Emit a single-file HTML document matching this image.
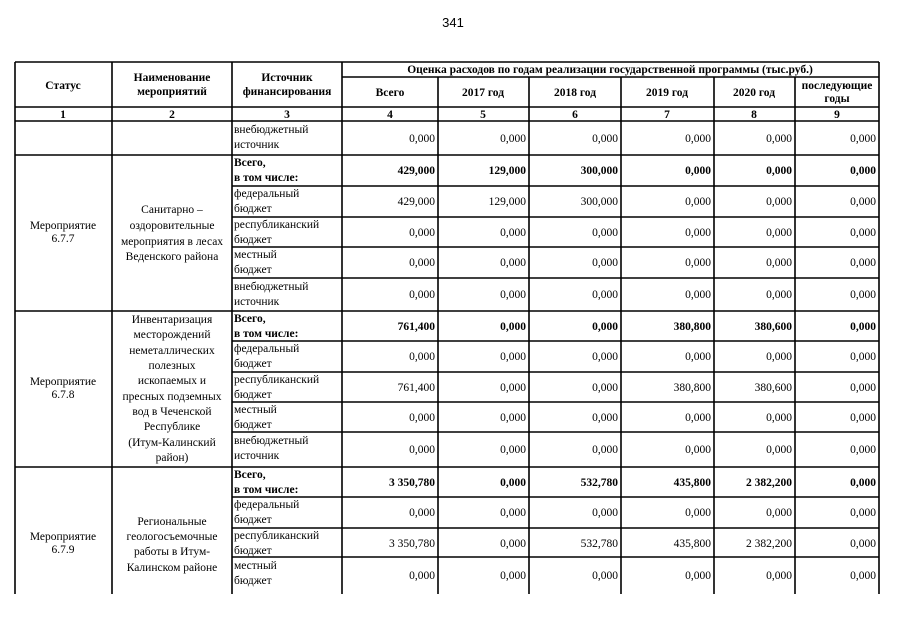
<!DOCTYPE html>
<html><head><meta charset="utf-8"><style>
html,body{margin:0;padding:0;background:#fff;width:905px;height:640px;overflow:hidden}
svg{display:block}
text{font-family:"Liberation Serif",serif;font-size:11.5px;fill:#000}
.b{font-weight:bold}
.n{text-anchor:end}
.c{text-anchor:middle}
</style></head><body>
<svg width="905" height="640" viewBox="0 0 905 640">
<text x="453" y="27" class="c" style="font-family:'Liberation Sans',sans-serif;font-size:13px">341</text>
<g stroke="#000" stroke-width="1.6" fill="none">
<line x1="15" y1="62" x2="15" y2="594"/>
<line x1="112" y1="62" x2="112" y2="594"/>
<line x1="232" y1="62" x2="232" y2="594"/>
<line x1="342" y1="62" x2="342" y2="594"/>
<line x1="879" y1="62" x2="879" y2="594"/>
<line x1="438" y1="77" x2="438" y2="594"/>
<line x1="529" y1="77" x2="529" y2="594"/>
<line x1="621" y1="77" x2="621" y2="594"/>
<line x1="714" y1="77" x2="714" y2="594"/>
<line x1="795" y1="77" x2="795" y2="594"/>
<line x1="15" y1="62" x2="879" y2="62"/>
<line x1="342" y1="77" x2="879" y2="77"/>
<line x1="15" y1="107" x2="879" y2="107"/>
<line x1="15" y1="121" x2="879" y2="121"/>
<line x1="15" y1="155" x2="879" y2="155"/>
<line x1="15" y1="311" x2="879" y2="311"/>
<line x1="15" y1="467" x2="879" y2="467"/>
<line x1="232" y1="186" x2="879" y2="186"/>
<line x1="232" y1="217" x2="879" y2="217"/>
<line x1="232" y1="247" x2="879" y2="247"/>
<line x1="232" y1="278" x2="879" y2="278"/>
<line x1="232" y1="341" x2="879" y2="341"/>
<line x1="232" y1="372" x2="879" y2="372"/>
<line x1="232" y1="402" x2="879" y2="402"/>
<line x1="232" y1="432" x2="879" y2="432"/>
<line x1="232" y1="497" x2="879" y2="497"/>
<line x1="232" y1="528" x2="879" y2="528"/>
<line x1="232" y1="557" x2="879" y2="557"/>
</g>
<text x="63" y="89" class="c b">Статус</text>
<text x="172" y="81" class="c b">Наименование</text>
<text x="172" y="95" class="c b">мероприятий</text>
<text x="287" y="81" class="c b">Источник</text>
<text x="287" y="95" class="c b">финансирования</text>
<text x="610" y="73" class="c b">Оценка расходов по годам реализации государственной программы (тыс.руб.)</text>
<text x="390" y="96" class="c b">Всего</text>
<text x="483" y="96" class="c b">2017 год</text>
<text x="575" y="96" class="c b">2018 год</text>
<text x="667" y="96" class="c b">2019 год</text>
<text x="754" y="96" class="c b">2020 год</text>
<text x="837" y="89" class="c b">последующие</text>
<text x="837" y="102" class="c b">годы</text>
<text x="63" y="118" class="c b">1</text>
<text x="172" y="118" class="c b">2</text>
<text x="287" y="118" class="c b">3</text>
<text x="390" y="118" class="c b">4</text>
<text x="483" y="118" class="c b">5</text>
<text x="575" y="118" class="c b">6</text>
<text x="667" y="118" class="c b">7</text>
<text x="754" y="118" class="c b">8</text>
<text x="837" y="118" class="c b">9</text>

<text x="63" y="229" class="c">Мероприятие</text><text x="63" y="242" class="c">6.7.7</text>
<text x="172" y="213" class="c">Санитарно –</text>
<text x="172" y="229" class="c">оздоровительные</text>
<text x="172" y="245" class="c">мероприятия в лесах</text>
<text x="172" y="260" class="c">Веденского района</text>

<text x="63" y="385" class="c">Мероприятие</text><text x="63" y="398" class="c">6.7.8</text>
<text x="172" y="323" class="c">Инвентаризация</text>
<text x="172" y="338" class="c">месторождений</text>
<text x="172" y="354" class="c">неметаллических</text>
<text x="172" y="369" class="c">полезных</text>
<text x="172" y="384" class="c">ископаемых и</text>
<text x="172" y="400" class="c">пресных подземных</text>
<text x="172" y="415" class="c">вод в Чеченской</text>
<text x="172" y="430" class="c">Республике</text>
<text x="172" y="446" class="c">(Итум-Калинский</text>
<text x="172" y="461" class="c">район)</text>

<text x="63" y="540" class="c">Мероприятие</text><text x="63" y="553" class="c">6.7.9</text>
<text x="172" y="525" class="c">Региональные</text>
<text x="172" y="540" class="c">геологосъемочные</text>
<text x="172" y="555" class="c">работы в Итум-</text>
<text x="172" y="571" class="c">Калинском районе</text>

<text x="234" y="133">внебюджетный</text><text x="234" y="148">источник</text>
<text x="234" y="166" class="b">Всего,</text><text x="234" y="181" class="b">в том числе:</text>
<text x="234" y="197">федеральный</text><text x="234" y="212">бюджет</text>
<text x="234" y="228">республиканский</text><text x="234" y="243">бюджет</text>
<text x="234" y="258">местный</text><text x="234" y="273">бюджет</text>
<text x="234" y="290">внебюджетный</text><text x="234" y="305">источник</text>
<text x="234" y="322" class="b">Всего,</text><text x="234" y="337" class="b">в том числе:</text>
<text x="234" y="352">федеральный</text><text x="234" y="367">бюджет</text>
<text x="234" y="383">республиканский</text><text x="234" y="398">бюджет</text>
<text x="234" y="413">местный</text><text x="234" y="428">бюджет</text>
<text x="234" y="444">внебюджетный</text><text x="234" y="459">источник</text>
<text x="234" y="478" class="b">Всего,</text><text x="234" y="493" class="b">в том числе:</text>
<text x="234" y="508">федеральный</text><text x="234" y="523">бюджет</text>
<text x="234" y="539">республиканский</text><text x="234" y="554">бюджет</text>
<text x="234" y="569">местный</text><text x="234" y="584">бюджет</text>

<text x="435" y="142" class="n">0,000</text><text x="526" y="142" class="n">0,000</text><text x="618" y="142" class="n">0,000</text><text x="711" y="142" class="n">0,000</text><text x="792" y="142" class="n">0,000</text><text x="876" y="142" class="n">0,000</text>
<text x="435" y="174" class="n b">429,000</text><text x="526" y="174" class="n b">129,000</text><text x="618" y="174" class="n b">300,000</text><text x="711" y="174" class="n b">0,000</text><text x="792" y="174" class="n b">0,000</text><text x="876" y="174" class="n b">0,000</text>
<text x="435" y="205" class="n">429,000</text><text x="526" y="205" class="n">129,000</text><text x="618" y="205" class="n">300,000</text><text x="711" y="205" class="n">0,000</text><text x="792" y="205" class="n">0,000</text><text x="876" y="205" class="n">0,000</text>
<text x="435" y="236" class="n">0,000</text><text x="526" y="236" class="n">0,000</text><text x="618" y="236" class="n">0,000</text><text x="711" y="236" class="n">0,000</text><text x="792" y="236" class="n">0,000</text><text x="876" y="236" class="n">0,000</text>
<text x="435" y="266" class="n">0,000</text><text x="526" y="266" class="n">0,000</text><text x="618" y="266" class="n">0,000</text><text x="711" y="266" class="n">0,000</text><text x="792" y="266" class="n">0,000</text><text x="876" y="266" class="n">0,000</text>
<text x="435" y="298" class="n">0,000</text><text x="526" y="298" class="n">0,000</text><text x="618" y="298" class="n">0,000</text><text x="711" y="298" class="n">0,000</text><text x="792" y="298" class="n">0,000</text><text x="876" y="298" class="n">0,000</text>
<text x="435" y="330" class="n b">761,400</text><text x="526" y="330" class="n b">0,000</text><text x="618" y="330" class="n b">0,000</text><text x="711" y="330" class="n b">380,800</text><text x="792" y="330" class="n b">380,600</text><text x="876" y="330" class="n b">0,000</text>
<text x="435" y="360" class="n">0,000</text><text x="526" y="360" class="n">0,000</text><text x="618" y="360" class="n">0,000</text><text x="711" y="360" class="n">0,000</text><text x="792" y="360" class="n">0,000</text><text x="876" y="360" class="n">0,000</text>
<text x="435" y="391" class="n">761,400</text><text x="526" y="391" class="n">0,000</text><text x="618" y="391" class="n">0,000</text><text x="711" y="391" class="n">380,800</text><text x="792" y="391" class="n">380,600</text><text x="876" y="391" class="n">0,000</text>
<text x="435" y="421" class="n">0,000</text><text x="526" y="421" class="n">0,000</text><text x="618" y="421" class="n">0,000</text><text x="711" y="421" class="n">0,000</text><text x="792" y="421" class="n">0,000</text><text x="876" y="421" class="n">0,000</text>
<text x="435" y="453" class="n">0,000</text><text x="526" y="453" class="n">0,000</text><text x="618" y="453" class="n">0,000</text><text x="711" y="453" class="n">0,000</text><text x="792" y="453" class="n">0,000</text><text x="876" y="453" class="n">0,000</text>
<text x="435" y="486" class="n b">3 350,780</text><text x="526" y="486" class="n b">0,000</text><text x="618" y="486" class="n b">532,780</text><text x="711" y="486" class="n b">435,800</text><text x="792" y="486" class="n b">2 382,200</text><text x="876" y="486" class="n b">0,000</text>
<text x="435" y="516" class="n">0,000</text><text x="526" y="516" class="n">0,000</text><text x="618" y="516" class="n">0,000</text><text x="711" y="516" class="n">0,000</text><text x="792" y="516" class="n">0,000</text><text x="876" y="516" class="n">0,000</text>
<text x="435" y="547" class="n">3 350,780</text><text x="526" y="547" class="n">0,000</text><text x="618" y="547" class="n">532,780</text><text x="711" y="547" class="n">435,800</text><text x="792" y="547" class="n">2 382,200</text><text x="876" y="547" class="n">0,000</text>
<text x="435" y="579" class="n">0,000</text><text x="526" y="579" class="n">0,000</text><text x="618" y="579" class="n">0,000</text><text x="711" y="579" class="n">0,000</text><text x="792" y="579" class="n">0,000</text><text x="876" y="579" class="n">0,000</text>
</svg>
</body></html>
